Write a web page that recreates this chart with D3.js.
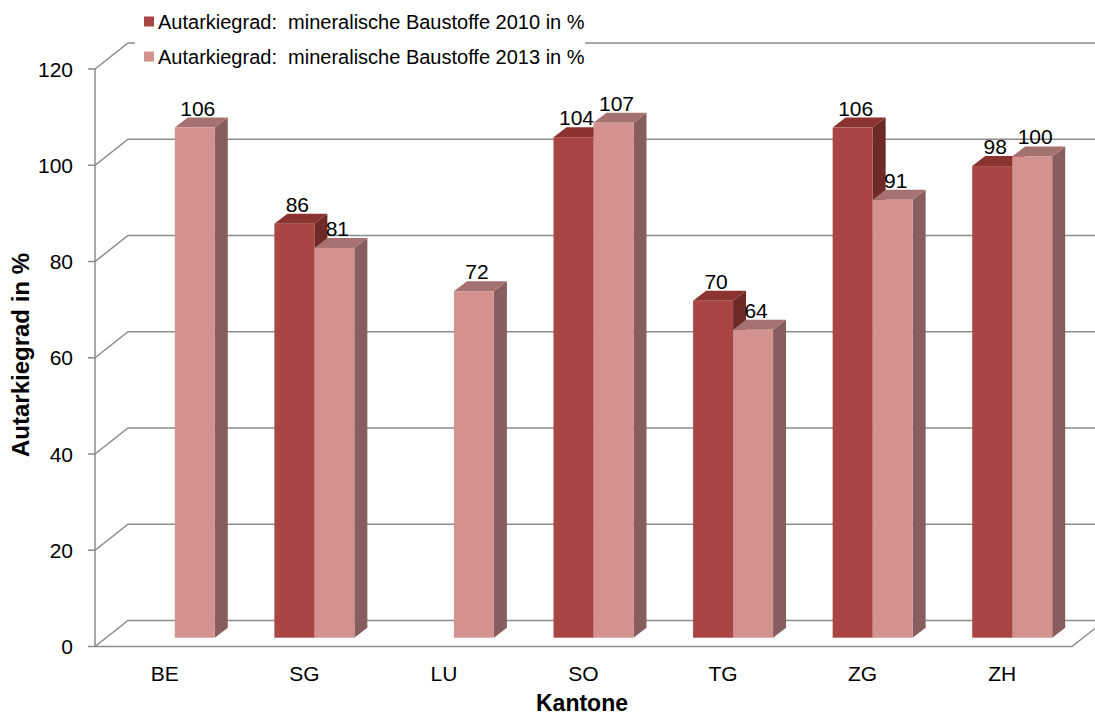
<!DOCTYPE html>
<html>
<head>
<meta charset="utf-8">
<script src="https://cdn.jsdelivr.net/npm/d3@7"></script>
<style>
  html, body { margin: 0; padding: 0; background: #fff; }
  svg { display: block; font-family: Arial, "Liberation Sans", sans-serif; }
  .legend-text { white-space: pre; }
</style>
</head>
<body>
<div id="chart"></div>
<script>
// Autarkiegrad mineralische Baustoffe, 3D column chart
const cantons = ['BE', 'SG', 'LU', 'SO', 'TG', 'ZG', 'ZH'];
const values2010 = [null, 86, null, 104, 70, 106, 98];
const values2013 = [106, 81, 72, 107, 64, 91, 100];
const seriesNames = [
  'Autarkiegrad:  mineralische Baustoffe 2010 in %',
  'Autarkiegrad:  mineralische Baustoffe 2013 in %'
];
const yTicks = [0, 20, 40, 60, 80, 100, 120];

const width = 1095, height = 716;

// colours: front, top, side for each series
const palette = [
  { front: '#A94542', top: '#8B3331', side: '#6F2A28' },
  { front: '#D39290', top: '#A67271', side: '#875E5D' }
];

// front plane of the plot and the 3D depth
const plot = { left: 95, right: 1072, bottom: 646.5, top: 69 };
const depth = { dx: 33, dy: -26 };
const barShift = { dx: 10, dy: -8.8 };   // where the bar front sits inside the floor
const barDepth = { dx: 13, dy: -10 };

const svg = d3.select('#chart').append('svg')
  .attr('width', width)
  .attr('height', height);

const y = d3.scaleLinear().domain([0, 120]).range([plot.bottom, plot.top]);

const x = d3.scaleBand()
  .domain(cantons)
  .range([plot.left, plot.right])
  .paddingInner(0.427)
  .paddingOuter(0.2135);

const xSeries = d3.scaleBand()
  .domain([0, 1])
  .range([0, x.bandwidth()]);

const gridColor = '#8c8c8c';
const grid = svg.append('g')
  .attr('fill', 'none')
  .attr('stroke', gridColor)
  .attr('stroke-width', 1.5);

// gridlines: tick, diagonal side wall, back wall line
yTicks.forEach(t => {
  const yy = y(t);
  grid.append('path')
    .attr('d', `M${plot.left - 7},${yy}H${plot.left}L${plot.left + depth.dx},${yy + depth.dy}H${width + 40}`);
});

// floor front edge + right edge, vertical axis
grid.append('path')
  .attr('d', `M${plot.left},${y(0)}H${plot.right}L${plot.right + depth.dx},${y(0) + depth.dy}`);
grid.append('line')
  .attr('x1', plot.left).attr('x2', plot.left)
  .attr('y1', y(0)).attr('y2', y(120));

// white legend background hides gridline behind it
svg.append('rect')
  .attr('x', 135).attr('y', 0)
  .attr('width', 450).attr('height', 76)
  .attr('fill', '#fff');

// bars
const bars = svg.append('g');
const base = y(0) + barShift.dy;
const unit = y(0) - y(1);

cantons.forEach((c, i) => {
  [values2010[i], values2013[i]].forEach((v, s) => {
    if (v == null) return;
    const xl = x(c) + xSeries(s) + barShift.dx;
    const xr = xl + xSeries.bandwidth();
    const yt = base - v * unit;
    const col = palette[s];
    const g = bars.append('g');
    g.append('polygon')
      .attr('points', [[xr, base], [xr, yt], [xr + barDepth.dx, yt + barDepth.dy], [xr + barDepth.dx, base + barDepth.dy]].join(' '))
      .attr('fill', col.side);
    g.append('polygon')
      .attr('points', [[xl, yt], [xr, yt], [xr + barDepth.dx, yt + barDepth.dy], [xl + barDepth.dx, yt + barDepth.dy]].join(' '))
      .attr('fill', col.top);
    g.append('rect')
      .attr('x', xl).attr('y', yt)
      .attr('width', xr - xl).attr('height', base - yt)
      .attr('fill', col.front);
    g.append('text')
      .attr('x', (xl + xr) / 2 + 3)
      .attr('y', yt + barDepth.dy - 2)
      .attr('text-anchor', 'middle')
      .attr('font-size', 21)
      .attr('fill', '#000')
      .text(v);
  });
});

// y tick labels
svg.append('g').selectAll('text')
  .data(yTicks)
  .enter().append('text')
  .attr('x', 73)
  .attr('y', d => y(d))
  .attr('dy', '0.36em')
  .attr('text-anchor', 'end')
  .attr('font-size', 21)
  .text(d => d);

// category labels
svg.append('g').selectAll('text')
  .data(cantons)
  .enter().append('text')
  .attr('x', d => x(d) + x.bandwidth() / 2)
  .attr('y', 681)
  .attr('text-anchor', 'middle')
  .attr('font-size', 21)
  .text(d => d);

// axis titles
svg.append('text')
  .attr('x', 582)
  .attr('y', 711)
  .attr('text-anchor', 'middle')
  .attr('font-size', 23)
  .attr('font-weight', 'bold')
  .text('Kantone');

svg.append('text')
  .attr('transform', 'translate(29,355) rotate(-90)')
  .attr('text-anchor', 'middle')
  .attr('font-size', 24)
  .attr('font-weight', 'bold')
  .text('Autarkiegrad in %');

// legend
const legend = svg.append('g');
seriesNames.forEach((name, i) => {
  const cy = 21.5 + i * 35;
  legend.append('rect')
    .attr('x', 144).attr('y', cy - 5)
    .attr('width', 10).attr('height', 10)
    .attr('fill', palette[i].front);
  legend.append('text')
    .attr('class', 'legend-text')
    .attr('x', 158)
    .attr('y', cy)
    .attr('dy', '0.36em')
    .attr('font-size', 20)
    .text(name);
});
</script>
</body>
</html>
